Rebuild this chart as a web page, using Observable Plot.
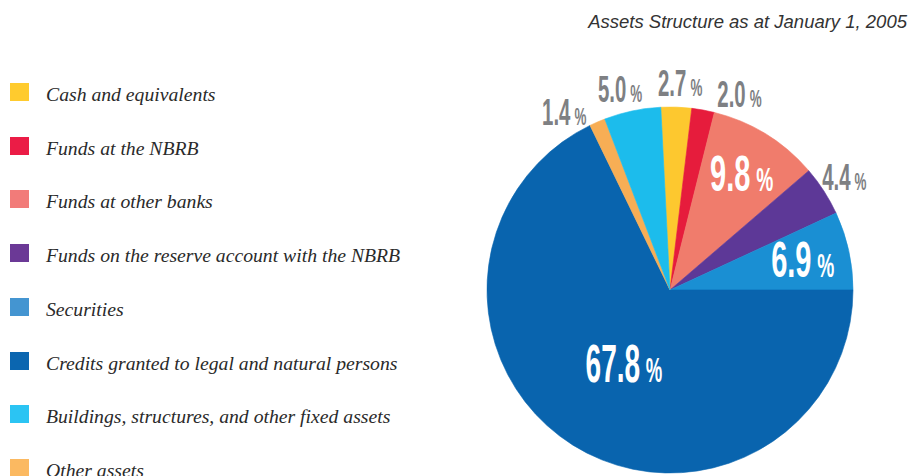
<!DOCTYPE html>
<html>
<head>
<meta charset="utf-8">
<script src="https://cdn.jsdelivr.net/npm/d3@7"></script>
<script src="https://cdn.jsdelivr.net/npm/@observablehq/plot@0.6"></script>
<style>
  html, body { margin: 0; padding: 0; background: #fff; }
  #root { position: relative; width: 920px; height: 476px; overflow: hidden; }
  #title { position: absolute; right: 13px; top: 11px; font: italic 18.5px "Liberation Sans", Arial, sans-serif; color: #333; white-space: nowrap; line-height: 22px; }
  .lg-sw { position: absolute; left: 10px; width: 19px; height: 18px; }
  .lg-tx { position: absolute; left: 46px; font: italic 19.7px "Liberation Serif", "DejaVu Serif", serif; color: #2a2a2a; white-space: nowrap; line-height: 20px; }
  #chart { position: absolute; left: 480px; top: 40px; }
</style>
</head>
<body>
<div id="root">
  <div id="title"></div>
  <div id="legend"></div>
  <div id="chart"></div>
</div>
<script>
// ---- data ----
const title = "Assets Structure as at January 1, 2005";
const categories = [
  "Cash and equivalents",
  "Funds at the NBRB",
  "Funds at other banks",
  "Funds on the reserve account with the NBRB",
  "Securities",
  "Credits granted to legal and natural persons",
  "Buildings, structures, and other fixed assets",
  "Other assets"
];
const values = [2.7, 2.0, 9.8, 4.4, 6.9, 67.8, 5.0, 1.4];
// clockwise order of the slices, starting near 12 o'clock
const sliceOrder = [
  "Cash and equivalents",
  "Funds at the NBRB",
  "Funds at other banks",
  "Funds on the reserve account with the NBRB",
  "Securities",
  "Credits granted to legal and natural persons",
  "Other assets",
  "Buildings, structures, and other fixed assets"
];

// ---- styles ----
const pieColors = ["#fdc82f", "#e61c3c", "#f07c6c", "#5d3897", "#1a8fd3", "#0964ae", "#1cbcec", "#f7ae55"];
const legendColors = ["#ffcb2e", "#eb1c46", "#f27b79", "#6b3996", "#4495d1", "#0b66b0", "#2bc4f3", "#fbb961"];
const labelGray = "#7e8083";

// ---- title & legend (HTML) ----
document.getElementById("title").textContent = title;
const legend = document.getElementById("legend");
const rowStart = 92, rowStep = 53.7;
categories.forEach((c, i) => {
  const yc = rowStart + i * rowStep;
  const sw = document.createElement("div");
  sw.className = "lg-sw";
  sw.style.top = (yc - 9) + "px";
  sw.style.background = legendColors[i];
  legend.appendChild(sw);
  const tx = document.createElement("div");
  tx.className = "lg-tx";
  tx.style.top = (yc - 8) + "px";
  tx.textContent = c;
  legend.appendChild(tx);
});

// ---- pie geometry ----
const slicesData = sliceOrder.map(c => ({category: c, value: values[categories.indexOf(c)]}));
const total = d3.sum(slicesData, d => d.value);
// Securities slice ends exactly at 3 o'clock
const cumToSecurities = d3.sum(slicesData.slice(0, sliceOrder.indexOf("Securities") + 1), d => d.value);
const startAngle = Math.PI / 2 - 2 * Math.PI * cumToSecurities / total;
const arcs = d3.pie().sort(null).value(d => d.value)
  .startAngle(startAngle).endAngle(startAngle + 2 * Math.PI)(slicesData);

const pieColor = Plot.scale({color: {type: "ordinal", domain: categories, range: pieColors}});

// labels: big slices inside (white), small outside (gray), spread to avoid overlap
const labels = arcs.map(a => {
  const v = a.data.value;
  let mid = (a.startAngle + a.endAngle) / 2;
  if (mid > Math.PI) mid -= 2 * Math.PI;
  const inside = v >= 6;
  return {
    category: a.data.category,
    value: v,
    text: v.toFixed(1) + " %",
    inside,
    angle: mid,
    r: inside ? (v > 50 ? 0.48 : 0.74) : 1.13,
    size: inside ? (v > 50 ? 54 : 50) : 37
  };
});
// relax outside label angles
{
  const out = labels.filter(d => !d.inside).sort((a, b) => a.angle - b.angle);
  const minSep = 16.8 * Math.PI / 180;
  for (let it = 0; it < 400; ++it) {
    for (let i = 1; i < out.length; ++i) {
      const gap = out[i].angle - out[i - 1].angle;
      if (gap < minSep) {
        const push = (minSep - gap) / 2;
        out[i].angle += push;
        out[i - 1].angle -= push;
      }
    }
  }
}
labels.forEach(d => {
  d.x = d.r * Math.sin(d.angle);
  d.y = d.r * Math.cos(d.angle);
});

// ---- plot ----
const W = 440, H = 436, R = 183, cx = 190, cy = 250;

function sliceMark(index, scales) {
  const s = (scales && scales.x) ? scales : arguments[0];
  const sx = s.x, sy = s.y;
  const r = Math.abs(sx(1) - sx(0));
  const g = d3.create("svg:g").attr("transform", `translate(${sx(0)},${sy(0)})`);
  const arc = d3.arc().innerRadius(0).outerRadius(r);
  g.selectAll("path").data(arcs).join("path")
    .attr("d", arc)
    .attr("fill", d => pieColor.apply(d.data.category))
    .attr("stroke", d => pieColor.apply(d.data.category))
    .attr("stroke-width", 0.6)
    .attr("stroke-linejoin", "round");
  return g.node();
}

const labelFont = '"Liberation Sans", Arial, sans-serif';
const chart = Plot.plot({
  width: W,
  height: H,
  margin: 0,
  x: {domain: [-1, 1], range: [cx - R, cx + R], axis: null},
  y: {domain: [-1, 1], range: [cy + R, cy - R], axis: null},
  marks: [
    sliceMark,
    Plot.text(labels.filter(d => d.inside), {
      x: "x", y: "y", text: "text", fontSize: "size",
      fill: "#ffffff", fontWeight: "bold", fontFamily: labelFont,
      ariaLabel: "pct-in"
    }),
    Plot.text(labels.filter(d => !d.inside), {
      x: "x", y: "y", text: "text", fontSize: "size",
      fill: labelGray, fontWeight: "bold", fontFamily: labelFont,
      ariaLabel: "pct-out"
    })
  ]
});
document.getElementById("chart").appendChild(chart);

// condensed look: split number / smaller "%", squeeze horizontally
const svgNS = "http://www.w3.org/2000/svg";
chart.querySelectorAll("text").forEach(t => {
  const s = t.textContent;
  const m = s.match(/^([\d.]+) %$/);
  if (!m) return;
  const fs = parseFloat(t.getAttribute("font-size")) || parseFloat(getComputedStyle(t).fontSize) || 35;
  while (t.firstChild) t.removeChild(t.firstChild);
  const a = document.createElementNS(svgNS, "tspan");
  a.textContent = m[1];
  const b = document.createElementNS(svgNS, "tspan");
  b.textContent = "%";
  b.setAttribute("font-size", (fs * 0.66).toFixed(1));
  b.setAttribute("dx", (fs * 0.2).toFixed(1));
  t.appendChild(a);
  t.appendChild(b);
  const tr = t.getAttribute("transform") || "";
  const sxf = fs > 52 ? 0.52 : (fs < 40 ? 0.55 : 0.58);
  t.setAttribute("transform", tr + ` scale(${sxf},1)`);
});
</script>
</body>
</html>
